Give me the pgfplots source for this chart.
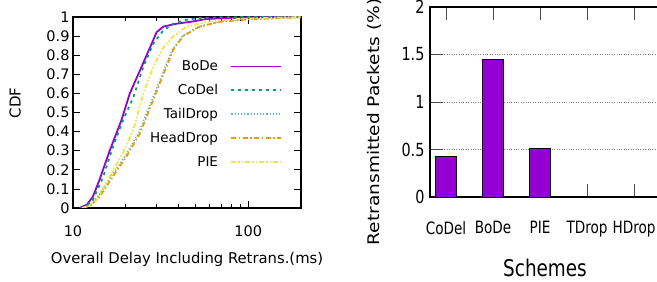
\documentclass[border=0pt]{standalone}
\usepackage{pgfplots}
\pgfplotsset{compat=1.18}
\usepackage{fontspec}
\setmainfont{DejaVu Sans}
\newfontfamily\condfont[FakeStretch=0.8]{DejaVu Sans}
\definecolor{cbode}{HTML}{9400D3}
\definecolor{ccodel}{HTML}{009E73}
\definecolor{ctail}{HTML}{56B4E9}
\definecolor{chead}{HTML}{E69F00}
\definecolor{cpie}{HTML}{F0E442}
\newcommand{\lf}{\fontsize{13.5bp}{15bp}\selectfont}
\begin{document}
\begin{tikzpicture}
\useasboundingbox (0,0) rectangle (657bp,282bp);
\begin{axis}[
  at={(73bp,74bp)}, anchor=south west,
  scale only axis, width=228bp, height=191bp,
  xmode=log, log basis x=10,
  xmin=10, xmax=200, ymin=0, ymax=1,
  xtick={10,100}, xticklabels={10,100},
  minor xtick={20,30,40,50,60,70,80,90,200},
  ytick={0,0.1,...,1.01},
  yticklabel style={/pgf/number format/fixed},
  /pgf/number format/assume math mode=true,
  tick align=inside,
  major tick length=7bp, minor tick length=4bp,
  axis line style={line width=1.2pt},
  tick style={line width=0.8pt, black},
  ticklabel style={font=\fontsize{14.5bp}{17bp}\selectfont},
  xticklabel style={yshift=-14bp},
  xlabel={\fontsize{14.8bp}{18bp}\selectfont Overall Delay Including Retrans.(ms)},
  ylabel={\fontsize{15bp}{17bp}\selectfont CDF},
  xlabel style={at={(axis description cs:0.5,-0.267)}, anchor=center},
  ylabel style={at={(axis description cs:-0.254,0.55)}, anchor=center},
  legend plot pos=right,
  legend cell align=right,
  legend image code/.code={\draw[#1] (0bp,0bp) -- (50bp,0bp);},
  legend style={draw=none, fill=none, at={(0.932,0.79)}, anchor=north east,
    font=\lf, row sep=9.2bp, column sep=11bp,
    nodes={inner sep=1.5bp}},
]
\addplot[cbode, line width=1.8pt] coordinates {
(10.9,0) (12.0,0.017) (13.0,0.06) (14.2,0.15) (16.2,0.30) (18.9,0.46)
(21.1,0.60) (24.1,0.72) (27.5,0.84) (30.0,0.92) (32.8,0.95) (39.1,0.965)
(48.6,0.977) (58,0.99) (82,0.995) (100,0.999) (200,1)};
\addlegendentry{\lf BoDe}
\addplot[ccodel, line width=1.8pt, dash pattern=on 3pt off 4pt] coordinates {
(11.1,0) (12.0,0.012) (13.0,0.043) (14.9,0.165) (16.9,0.32) (19.3,0.46)
(22.1,0.58) (25.2,0.74) (28.7,0.86) (32.8,0.93) (37.4,0.965) (44.5,0.986)
(53,0.995) (70,0.999) (200,1)};
\addlegendentry{\lf CoDel}
\addplot[ctail, line width=1.6pt, dash pattern=on 1.2pt off 2pt] coordinates {
(11.3,0) (12.5,0.015) (13.9,0.06) (16.5,0.165) (19.8,0.27) (23.6,0.39)
(28.2,0.565) (32.3,0.70) (36.9,0.83) (42.2,0.90) (52.5,0.95) (68,0.975)
(102,0.988) (158,0.995) (200,0.998)};
\addlegendentry{\lf TailDrop}
\addplot[chead, line width=1.8pt, dash pattern=on 5pt off 2.5pt on 1.5pt off 2.5pt] coordinates {
(11.4,0) (12.7,0.015) (14.2,0.06) (16.9,0.165) (20.2,0.27) (24.1,0.39)
(28.7,0.565) (32.8,0.70) (37.4,0.83) (42.6,0.90) (53,0.95) (69,0.975)
(103,0.988) (159,0.995) (200,0.998)};
\addlegendentry{\lf HeadDrop}
\addplot[cpie, line width=1.8pt, dash pattern=on 5pt off 2pt on 1.5pt off 2pt on 1.5pt off 2pt] coordinates {
(11.3,0) (12.4,0.012) (13.6,0.04) (16.2,0.165) (19.3,0.29) (22.1,0.41)
(25.2,0.60) (28.7,0.74) (32.8,0.84) (37.4,0.90) (44.5,0.95) (58,0.975)
(82,0.988) (128,0.996) (200,1)};
\addlegendentry{\lf PIE}
\end{axis}
\begin{axis}[
  at={(430bp,85bp)}, anchor=south west,
  scale only axis, width=230bp, height=190bp,
  xmin=-0.34, xmax=4.55, ymin=0, ymax=2,
  xtick={0,1,2,3,4},
  xticklabels={CoDel,BoDe,PIE,TDrop,HDrop},
  ytick={0,0.5,1,1.5,2},
  yticklabels={0,0.5,1,1.5,2},
  ytick pos=left,
  tick align=inside,
  major tick length=13bp,
  axis line style={line width=1.2pt},
  tick style={line width=0.8pt, black!70},
  ymajorgrids, major grid style={dotted, line width=0.8pt, gray},
  ticklabel style={font=\condfont\fontsize{18bp}{20bp}\selectfont},
  xticklabel style={font=\condfont\fontsize{17bp}{20bp}\selectfont, yshift=-21bp},
  yticklabel style={xshift=-2bp},
  xlabel={\condfont\fontsize{23bp}{26bp}\selectfont Schemes},
  ylabel={\scalebox{1.16}[1]{\fontsize{16bp}{18bp}\selectfont Retransmitted Packets (\%)}},
  xlabel style={at={(axis description cs:0.5,-0.375)}, anchor=center},
  ylabel style={at={(axis description cs:-0.243,0.395)}, anchor=center},
]
\addplot[ybar, bar width=21bp, fill=cbode, draw=black, line width=0.8pt] coordinates {
(0,0.43) (1,1.45) (2,0.51) (3,0.01) (4,0.01)};
\end{axis}
\end{tikzpicture}
\end{document}
